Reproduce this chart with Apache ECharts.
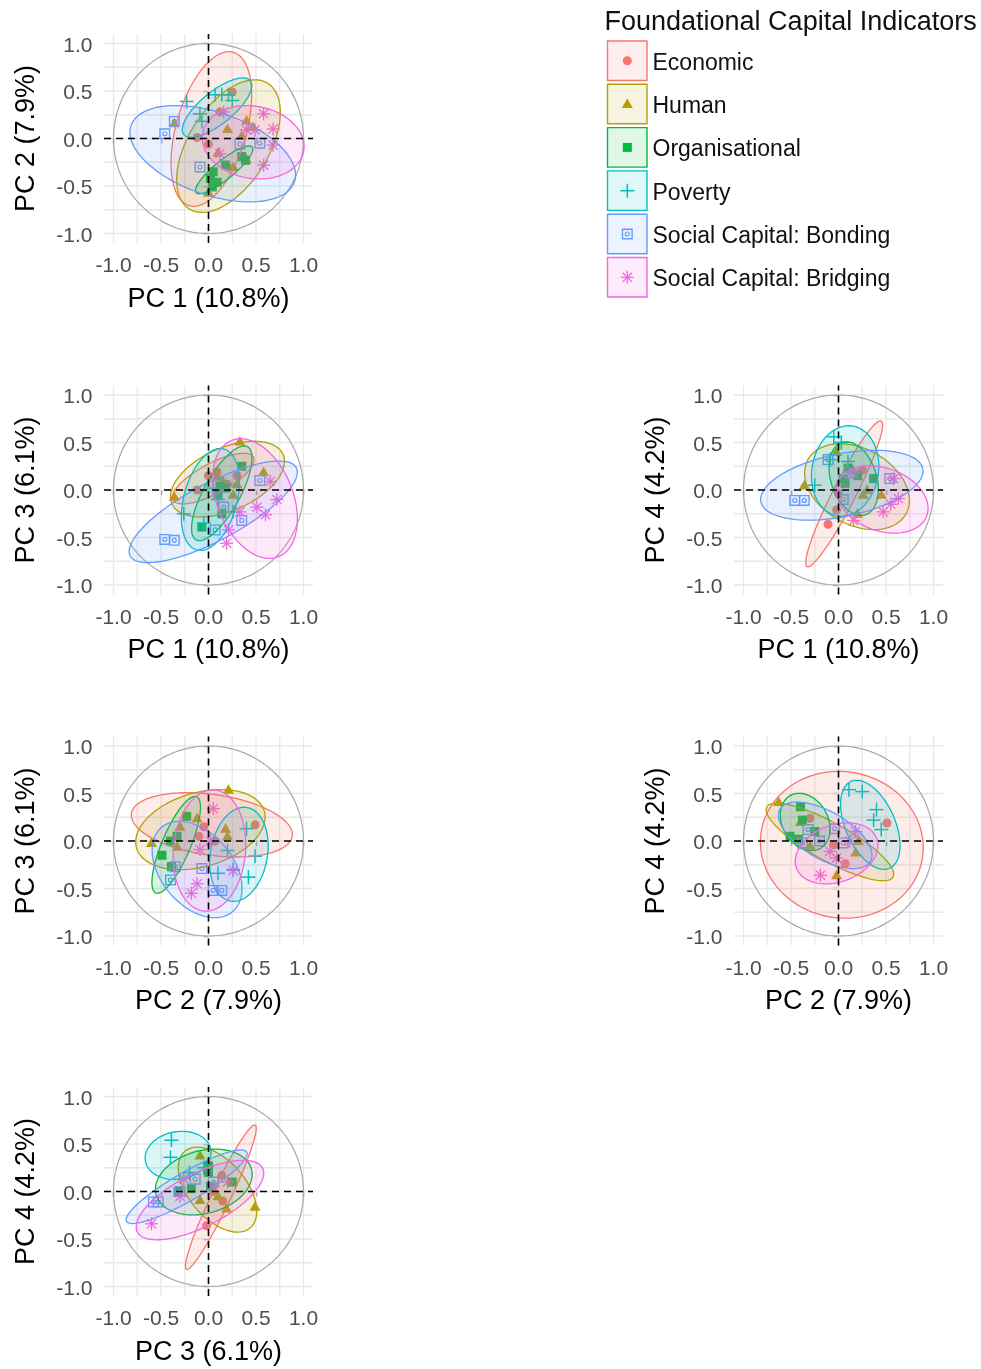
<!DOCTYPE html>
<html><head><meta charset="utf-8">
<script src="https://cdn.jsdelivr.net/npm/echarts@6/dist/echarts.min.js"></script>
<style>html,body{margin:0;padding:0;background:#fff}#c{width:981px;height:1369px}</style>
</head><body><div id="c"></div>
<script>
// ---------------- DATA ----------------
const groups = ['Economic','Human','Organisational','Poverty','Social Capital: Bonding','Social Capital: Bridging'];
const legendTitle = 'Foundational Capital Indicators';
const tickValues = [-1, -0.5, 0, 0.5, 1];
const gridValues = [-1, -0.75, -0.5, -0.25, 0, 0.25, 0.5, 0.75, 1];
const panelTitles = [
  ['PC 1 (10.8%)', 'PC 2 (7.9%)'],
  ['PC 1 (10.8%)', 'PC 3 (6.1%)'],
  ['PC 1 (10.8%)', 'PC 4 (4.2%)'],
  ['PC 2 (7.9%)', 'PC 3 (6.1%)'],
  ['PC 2 (7.9%)', 'PC 4 (4.2%)'],
  ['PC 3 (6.1%)', 'PC 4 (4.2%)']
];
// points per panel, one list of [x, y] per group (order of `groups`)
const pointsPC1PC2 = [
  [[0.25,0.49],[-0.12,0.01],[0,-0.06],[0.19,-0.28],[0.12,0.28]],
  [[-0.36,0.16],[0.4,0.19],[0.35,0.03],[0.47,0.12],[0.4,-0.22],[0.26,-0.3],[0,-0.57],[0.1,-0.15],[0.2,0.1]],
  [[0.35,-0.19],[0.39,-0.23],[0.18,-0.28],[0.05,-0.35],[0.02,-0.42],[0.09,-0.46],[0.04,-0.51]],
  [[0.14,0.46],[0.21,0.46],[0.25,0.4],[-0.09,0.26],[-0.07,0.18],[-0.23,0.39],[0.07,0.46]],
  [[-0.46,0.05],[-0.36,0.18],[-0.09,-0.3],[0.54,-0.05],[0.33,-0.06]],
  [[0.58,0.26],[0.68,0.1],[0.68,-0.07],[0.58,-0.28],[0.16,0.28],[0.4,0.09],[0.12,-0.16],[0.49,0.09]]
];
const pointsPC1PC3 = [
  [[-0.12,0.0],[0,0.15],[0.09,0.19],[0.3,0.15],[0.2,0.06]],
  [[-0.36,-0.07],[0.58,0.19],[0.33,0.51],[0.09,0.14],[0.26,-0.05],[0.3,0.06],[0.15,0.1]],
  [[0.12,0.04],[0.1,-0.05],[0.35,0.25],[-0.07,-0.39],[0.14,-0.25],[0.18,0.02]],
  [[-0.26,-0.25],[0.26,-0.23],[-0.05,-0.35],[0.05,0.02],[0.1,-0.1]],
  [[-0.46,-0.52],[-0.36,-0.53],[0.54,0.1],[0.35,-0.32],[0.07,-0.42],[0.16,-0.18]],
  [[0.65,0.09],[0.72,-0.1],[0.6,-0.26],[0.51,-0.18],[0.21,-0.42],[0.19,-0.56],[0.33,-0.23]]
];
const pointsPC1PC4 = [
  [[0.12,0.23],[0.25,0.21],[0,-0.04],[-0.02,-0.21],[-0.11,-0.36]],
  [[-0.36,0.05],[-0.02,0.4],[0.26,-0.05],[0.45,-0.05],[0.2,-0.25],[0.3,0.0]],
  [[0.1,0.23],[0.37,0.12],[0.07,0.07],[0.2,0.15],[0.05,0.12]],
  [[-0.05,0.56],[-0.25,0.05],[-0.09,0.32],[0.03,0.5],[0.1,0.3]],
  [[-0.46,-0.11],[-0.36,-0.11],[-0.11,0.32],[0.54,0.12],[0.12,0.18],[0.05,-0.1]],
  [[0.58,0.12],[0.63,-0.09],[0.47,-0.23],[0.16,-0.32],[0.16,0.18],[0.55,-0.15]]
];
const pointsPC2PC3 = [
  [[-0.05,0.15],[0.49,0.17],[0.07,0.0],[-0.1,0.05]],
  [[-0.6,-0.02],[0.21,0.54],[0.18,0.13],[-0.3,0.15],[-0.33,-0.06],[-0.12,0.24],[0.2,0.05]],
  [[-0.23,0.26],[-0.33,0.05],[-0.4,0.0],[-0.49,-0.15],[-0.39,-0.27]],
  [[0.4,0.13],[0.49,-0.16],[0.42,-0.38],[0.1,-0.34],[0.26,-0.3],[0.2,-0.1]],
  [[0.05,-0.52],[0.14,-0.52],[-0.4,-0.41],[-0.07,-0.29],[-0.35,-0.27]],
  [[0.05,0.34],[-0.09,-0.09],[-0.18,-0.55],[0.26,-0.31],[-0.12,-0.45],[0.02,0.0]]
];
const pointsPC2PC4 = [
  [[0.51,0.19],[-0.3,0.24],[-0.05,-0.04],[0.07,-0.24]],
  [[-0.63,0.41],[-0.4,0.2],[0.21,0.0],[0.18,-0.12],[-0.02,-0.36],[-0.3,-0.05]],
  [[-0.4,0.36],[-0.51,0.05],[-0.25,0.1],[-0.38,0.22],[-0.42,0.02]],
  [[0.11,0.54],[0.25,0.52],[0.4,0.33],[0.37,0.22],[0.45,0.12]],
  [[-0.32,0.12],[-0.04,0.13],[-0.38,-0.02],[0.05,-0.02],[-0.2,0.0]],
  [[-0.09,-0.11],[-0.19,-0.36],[0.18,0.1],[-0.02,-0.18],[0.12,0.0]]
];
const pointsPC3PC4 = [
  [[0.14,0.17],[0.05,0.0],[-0.02,-0.36],[0.15,-0.1]],
  [[-0.09,0.38],[0.49,-0.16],[0.19,-0.18],[-0.09,-0.09],[0.0,0.3],[0.1,-0.05]],
  [[-0.32,0.0],[-0.18,0.03],[0.0,0.27],[0.25,0.1],[0.02,0.05],[0.0,0.2]],
  [[-0.39,0.54],[-0.4,0.36],[-0.2,0.2],[-0.05,0.25]],
  [[-0.58,-0.11],[-0.53,-0.11],[-0.14,0.13],[-0.3,0.0],[0.05,0.1]],
  [[-0.6,-0.34],[-0.26,0.13],[0.05,0.05],[0.2,0.1],[-0.3,-0.05]]
];
// ellipses per panel: [centerX, centerY, semiMajor, semiMinor, angleDeg] per group
const ellipsesPC1PC2 = [
  [0.03,0.1,0.84,0.37,74],[0.21,-0.08,0.78,0.42,58],[0.165,-0.33,0.38,0.1,39],
  [0.09,0.325,0.45,0.17,39],[0.045,-0.16,0.91,0.435,-19],[0.47,-0.04,0.54,0.38,-10]
];
const ellipsesPC1PC3 = [
  [0.05,0.12,0.48,0.16,28],[0.2,0.115,0.64,0.33,24],[0.14,-0.035,0.56,0.19,61],
  [0.02,-0.1,0.55,0.28,75],[0.05,-0.23,0.99,0.3,28],[0.49,-0.09,0.66,0.4,-68]
];
const ellipsesPC1PC4 = [
  [0.06,-0.04,0.86,0.12,63],[0.195,0.035,0.59,0.4,-29],[0.16,0.12,0.4,0.24,-72],
  [0.07,0.2,0.48,0.35,80],[0.035,0.05,0.87,0.33,11.6],[0.46,-0.1,0.5,0.33,-20]
];
const ellipsesPC2PC3 = [
  [0.035,0.17,0.855,0.32,-8],[-0.085,0.12,0.7,0.39,16],[-0.34,-0.04,0.55,0.15,67],
  [0.32,-0.14,0.5,0.3,80],[-0.12,-0.3,0.58,0.38,-50],[0.01,-0.1,0.64,0.38,85]
];
const ellipsesPC2PC4 = [
  [0.035,-0.04,0.86,0.77,-10],[-0.09,-0.01,0.76,0.2,-29],[-0.35,0.2,0.32,0.24,-60],
  [0.335,0.17,0.5,0.26,114],[-0.14,0.06,0.55,0.25,-30],[-0.02,-0.13,0.45,0.3,20]
];
const ellipsesPC3PC4 = [
  [0.13,-0.06,0.84,0.1,64.5],[0.095,0.02,0.53,0.3,-49.5],[-0.05,0.1,0.52,0.33,15],
  [-0.32,0.38,0.35,0.25,10],[-0.23,0.05,0.73,0.15,30],[-0.09,-0.09,0.74,0.28,27]
];

// ---------------- STYLE / LAYOUT ----------------
const colors = ['#F8766D','#B79F00','#00BA38','#00BFC4','#619CFF','#F564E3'];
const FONT = '"Liberation Sans", Arial, sans-serif';
const panelPoints = [pointsPC1PC2, pointsPC1PC3, pointsPC1PC4, pointsPC2PC3, pointsPC2PC4, pointsPC3PC4];
const panelEllipses = [ellipsesPC1PC2, ellipsesPC1PC3, ellipsesPC1PC4, ellipsesPC2PC3, ellipsesPC2PC4, ellipsesPC3PC4];
const panelCenters = [[208.5,138.5],[208.5,490],[838.5,490],[208.5,841],[838.5,841],[208.5,1191.5]];
const UNIT = 95, LIM = 1.1;

function rgba(hex, a) {
  const n = parseInt(hex.slice(1), 16);
  return 'rgba(' + ((n >> 16) & 255) + ',' + ((n >> 8) & 255) + ',' + (n & 255) + ',' + a + ')';
}
function ln(x1, y1, x2, y2, stroke, w) {
  return {type: 'line', shape: {x1, y1, x2, y2}, style: {stroke, lineWidth: w, fill: null}};
}
function symbolEl(g, x, y) {
  const c = colors[g];
  if (g === 0) return {type: 'circle', shape: {cx: x, cy: y, r: 4.5}, style: {fill: c}};
  if (g === 1) return {type: 'polygon', shape: {points: [[x, y - 5.5], [x + 5.5, y + 4], [x - 5.5, y + 4]]}, style: {fill: c}};
  if (g === 2) return {type: 'rect', shape: {x: x - 4.5, y: y - 4.5, width: 9, height: 9}, style: {fill: c}};
  if (g === 3) return {type: 'group', children: [ln(x - 7, y, x + 7, y, c, 1.5), ln(x, y - 7, x, y + 7, c, 1.5)]};
  if (g === 4) return {type: 'group', children: [
    {type: 'rect', shape: {x: x - 4.8, y: y - 4.8, width: 9.6, height: 9.6}, style: {fill: 'none', stroke: c, lineWidth: 1.4}},
    {type: 'circle', shape: {cx: x, cy: y, r: 2}, style: {fill: 'none', stroke: c, lineWidth: 1.2}}
  ]};
  const ch = [];
  [0, 45, 90, 135].forEach(d => {
    const t = d * Math.PI / 180, r = 6.5;
    ch.push(ln(x - r * Math.cos(t), y - r * Math.sin(t), x + r * Math.cos(t), y + r * Math.sin(t), c, 1.3));
  });
  return {type: 'group', children: ch};
}

const axisBase = {
  type: 'value', min: -LIM, max: LIM, nameLocation: 'middle',
  nameTextStyle: {fontSize: 27, color: '#000', fontFamily: FONT},
  axisLine: {show: false},
  axisTick: {show: true, customValues: tickValues, length: 5, lineStyle: {color: '#333', width: 1.3}},
  axisLabel: {customValues: tickValues, formatter: v => (+v).toFixed(1), fontSize: 21, color: '#4d4d4d', fontFamily: FONT},
  splitLine: {show: false}
};

const grids = [], xAxes = [], yAxes = [], series = [];
panelTitles.forEach((t, i) => {
  const [cx, cy] = panelCenters[i];
  const half = LIM * UNIT;
  grids.push({left: cx - half, top: cy - half, width: 2 * half, height: 2 * half});
  xAxes.push(Object.assign({}, axisBase, {gridIndex: i, name: t[0], nameGap: 43,
    axisLabel: Object.assign({}, axisBase.axisLabel, {margin: 13})}));
  yAxes.push(Object.assign({}, axisBase, {gridIndex: i, name: t[1], nameGap: 64, nameRotate: 90,
    axisLabel: Object.assign({}, axisBase.axisLabel, {margin: 11.5, verticalAlign: 'top', lineHeight: 5})}));

  // background: grid lines and unit circle
  series.push({
    type: 'custom', xAxisIndex: i, yAxisIndex: i, z: 1, silent: true, data: [[0, 0]],
    renderItem: (params, api) => {
      const ch = [];
      gridValues.forEach(v => {
        const a = api.coord([v, -LIM]), b = api.coord([v, LIM]);
        ch.push(ln(a[0], a[1], b[0], b[1], '#e8e8e8', 1.3));
        const c = api.coord([-LIM, v]), d = api.coord([LIM, v]);
        ch.push(ln(c[0], c[1], d[0], d[1], '#e8e8e8', 1.3));
      });
      const pts = [];
      for (let k = 0; k <= 180; k++) {
        const th = 2 * Math.PI * k / 180;
        pts.push(api.coord([Math.cos(th), Math.sin(th)]));
      }
      ch.push({type: 'polyline', shape: {points: pts}, style: {stroke: '#a8a8a8', lineWidth: 1.2, fill: null}});
      return {type: 'group', children: ch};
    }
  });
  // points
  panelPoints[i].forEach((pts, g) => {
    series.push({
      type: 'custom', name: groups[g], xAxisIndex: i, yAxisIndex: i, z: 2, silent: true, data: pts,
      renderItem: (params, api) => {
        const p = api.coord([api.value(0), api.value(1)]);
        return symbolEl(g, p[0], p[1]);
      }
    });
  });
  // ellipses
  series.push({
    type: 'custom', xAxisIndex: i, yAxisIndex: i, z: 3, silent: true,
    data: panelEllipses[i].map((e, g) => e.concat([g])),
    renderItem: (params, api) => {
      const ecx = api.value(0), ecy = api.value(1), a = api.value(2), b = api.value(3);
      const ang = api.value(4) * Math.PI / 180, g = api.value(5);
      const pts = [];
      for (let k = 0; k < 120; k++) {
        const th = 2 * Math.PI * k / 120;
        const ex = a * Math.cos(th), ey = b * Math.sin(th);
        pts.push(api.coord([ecx + ex * Math.cos(ang) - ey * Math.sin(ang), ecy + ex * Math.sin(ang) + ey * Math.cos(ang)]));
      }
      return {type: 'polygon', shape: {points: pts}, style: {fill: rgba(colors[g], 0.14), stroke: colors[g], lineWidth: 1.3}};
    }
  });
  // dashed zero lines
  series.push({
    type: 'custom', xAxisIndex: i, yAxisIndex: i, z: 4, silent: true, data: [[0, 0]],
    renderItem: (params, api) => {
      const a = api.coord([0, -LIM]), b = api.coord([0, LIM]);
      const c = api.coord([-LIM, 0]), d = api.coord([LIM, 0]);
      const s = {stroke: '#000', lineWidth: 1.6, lineDash: [7, 5], fill: null};
      return {type: 'group', children: [
        {type: 'line', shape: {x1: a[0], y1: a[1], x2: b[0], y2: b[1]}, style: s},
        {type: 'line', shape: {x1: c[0], y1: c[1], x2: d[0], y2: d[1]}, style: Object.assign({}, s)}
      ]};
    }
  });
});

// legend (drawn as graphic elements from the group list)
const legendEls = [{type: 'text', x: 604.5, y: 22.5,
  style: {text: legendTitle, fontSize: 27, fontFamily: FONT, fill: '#111', align: 'left', verticalAlign: 'middle'}}];
groups.forEach((name, g) => {
  const top = 41 + g * 43.3;
  legendEls.push({type: 'rect', shape: {x: 607.5, y: top, width: 39.5, height: 39.5},
    style: {fill: rgba(colors[g], 0.12), stroke: colors[g], lineWidth: 1.4}});
  legendEls.push(symbolEl(g, 627.3, top + 19.8));
  legendEls.push({type: 'text', x: 652.5, y: top + 22.5,
    style: {text: name, fontSize: 23, fontFamily: FONT, fill: '#111', align: 'left', verticalAlign: 'middle'}});
});

const chart = echarts.init(document.getElementById('c'), null, {renderer: 'canvas'});
chart.setOption({
  animation: false,
  backgroundColor: '#fff',
  textStyle: {fontFamily: FONT},
  grid: grids, xAxis: xAxes, yAxis: yAxes, series: series,
  graphic: {elements: legendEls}
});
</script></body></html>
